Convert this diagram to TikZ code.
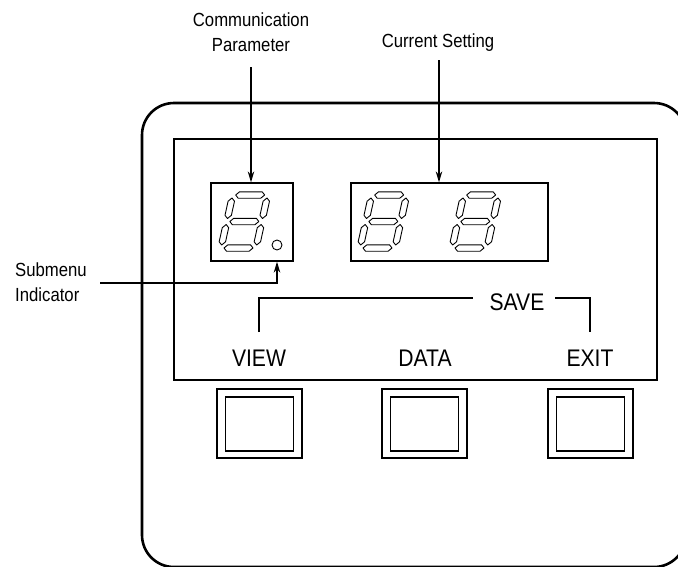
\documentclass[tikz,border=0pt]{standalone}
\usepackage{fontspec}
\setmainfont{Liberation Sans}
\newfontfamily\condfont{Liberation Sans}[FakeStretch=0.88]
\usetikzlibrary{arrows.meta}
\newcommand\lcdh[1]{\draw[segline] (3,#1) -- ++(3.2,3.2) -- ++(22.6,0) -- ++(3.2,-3.2) -- ++(-3.2,-3.2) -- ++(-22.6,0) -- cycle;}
\newcommand\lcdv[2]{\draw[segline] (#1,#2) -- ++(3.2,3.2) -- ++(0,14.1) -- ++(-3.2,3.2) -- ++(-3.2,-3.2) -- ++(0,-14.1) -- cycle;}
\newcommand\lcddigit[2]{%
  \begin{scope}[shift={(#1,#2)},y=1pt,xslant=0.22]
    \lcdh{0}\lcdh{26.5}\lcdh{53}
    \lcdv{0}{3}\lcdv{0}{29.5}\lcdv{35}{3}\lcdv{35}{29.5}
  \end{scope}}
\tikzset{
  segline/.style={draw=black,line width=0.9pt,line join=round},
  boxline/.style={draw=black,line width=1.3pt,inner sep=0pt},
  outerline/.style={draw=black,line width=2.6pt,rounded corners=32pt},
  conn/.style={draw=black,line width=1.2pt},
  arr/.style={conn,-{Stealth[length=11pt,width=6.5pt]}},
  lbl/.style={font=\condfont\fontsize{19}{25}\selectfont,inner sep=0pt},
  keylbl/.style={font=\condfont\fontsize{24}{26}\selectfont,inner sep=0pt},
}
\begin{document}
\begin{tikzpicture}[x=1pt,y=-1pt]
\useasboundingbox (0,0) rectangle (678,566);
% outer housing
\draw[outerline] (142,103) rectangle (686,567);
% display window
\node[boxline,minimum width=483pt,minimum height=241pt] (disp) at (415.5,259.5) {};
% digit boxes
\node[boxline,minimum width=82pt,minimum height=78pt] (lbox) at (252,222) {};
\node[boxline,minimum width=197pt,minimum height=78pt] (rbox) at (449.5,222) {};
% digits
\lcddigit{221}{248}
\lcddigit{360}{248}
\lcddigit{452}{248}
% submenu dot
\node[draw=black,line width=0.9pt,circle,minimum size=10pt,inner sep=0pt] (dot) at (277,245) {};
% labels
\node[lbl,align=center] (cp) at (251,32) {Communication\\Parameter};
\node[lbl] (cs) at (438,43) {Current Setting};
\node[lbl,align=left,anchor=west] (sm) at (15,282) {Submenu\\Indicator};
% arrows
\coordinate (cpstart) at (251,67);
\coordinate (csstart) at (439,60);
\coordinate (smstart) at (100,283);
\draw[arr] (cpstart) -- (cpstart |- lbox.north);
\draw[arr] (csstart) -- (csstart |- rbox.north);
\draw[arr] (smstart) -| (dot.south |- lbox.south);
% key labels
\node[keylbl] (save) at (517,302) {SAVE};
\node[keylbl] (view) at (259,358) {VIEW};
\node[keylbl] (data) at (425,358) {DATA};
\node[keylbl] (exit) at (590,358) {EXIT};
\coordinate (bl) at (259,332);
\coordinate (blend) at (473,298);
\coordinate (brstart) at (555,298);
\coordinate (br) at (590,332);
\draw[conn] (bl) |- (blend);
\draw[conn] (brstart) -| (br);
% keys
\foreach \n/\cx in {k1/259.5,k2/424.5,k3/590.5}{
  \node[boxline,line width=1.1pt,minimum width=85pt,minimum height=69pt] (\n o) at (\cx,423.5) {};
  \node[boxline,line width=1.1pt,minimum width=68pt,minimum height=54pt] (\n i) at (\cx,424) {};
}
\end{tikzpicture}
\end{document}
